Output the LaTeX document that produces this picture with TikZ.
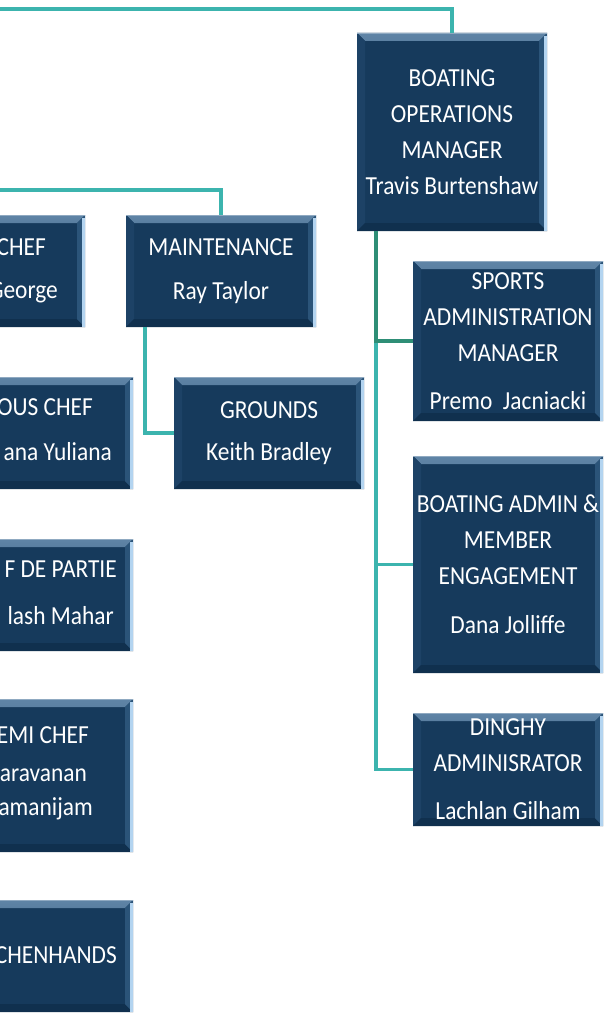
\documentclass[tikz,border=0pt]{standalone}
\usepackage{fontspec}
\newfontfamily\boxfontfam[FakeStretch=0.9]{Carlito}
\definecolor{boxnavy}{HTML}{163A5C}
\definecolor{bevtop}{HTML}{5F84A6}
\definecolor{bevleft}{HTML}{1D4266}
\definecolor{bevbot}{HTML}{10304E}
\definecolor{bevright}{HTML}{2B5479}
\definecolor{bevedge}{HTML}{B3D4F0}
\definecolor{connteal}{HTML}{3CB4AE}
\definecolor{conngreen}{HTML}{2E8E76}
\tikzset{
  orgbox/.style={rectangle, fill=boxnavy, minimum width=190pt, minimum height=#1,
    inner sep=0pt, outer sep=0pt, text=white, align=center,
    font=\boxfontfam\fontsize{26}{36}\selectfont,
    path picture={
      \fill[top color=bevtop, bottom color=boxnavy]
        (path picture bounding box.north west) -- (path picture bounding box.north east)
        -- ([shift={(-8pt,-8pt)}]path picture bounding box.north east)
        -- ([shift={(8pt,-8pt)}]path picture bounding box.north west) -- cycle;
      \fill[bevleft]
        (path picture bounding box.north west) -- ([shift={(8pt,-8pt)}]path picture bounding box.north west)
        -- ([shift={(8pt,8pt)}]path picture bounding box.south west)
        -- (path picture bounding box.south west) -- cycle;
      \fill[bevbot]
        (path picture bounding box.south west) -- ([shift={(8pt,8pt)}]path picture bounding box.south west)
        -- ([shift={(-8pt,8pt)}]path picture bounding box.south east)
        -- (path picture bounding box.south east) -- cycle;
      \fill[bevright]
        (path picture bounding box.north east) -- ([shift={(-8pt,-8pt)}]path picture bounding box.north east)
        -- ([shift={(-8pt,8pt)}]path picture bounding box.south east)
        -- (path picture bounding box.south east) -- cycle;
      \fill[bevedge] ([shift={(-3pt,-3pt)}]path picture bounding box.north east) rectangle (path picture bounding box.south east);
      \fill[bevtop!70!white] (path picture bounding box.north west) rectangle ([yshift=-1pt]path picture bounding box.north east);
    }},
  orgbox/.default=112pt,
  frag/.style={anchor=base east, inner sep=0pt, text=white, font=\boxfontfam\fontsize{26}{36}\selectfont},
  conn/.style={draw=connteal, line width=3.2pt},
  conng/.style={draw=conngreen, line width=3.2pt}
}
\begin{document}
\begin{tikzpicture}[x=1pt,y=-1pt]
\useasboundingbox (0,0) rectangle (603,1014);
\clip (0,0) rectangle (603,1014);
\fill[white] (0,0) rectangle (603,1014);

% right-hand branch
\node[orgbox=198pt] (ops) at (452,132) {BOATING\\OPERATIONS\\MANAGER\\Travis Burtenshaw};
\node[orgbox=160pt] (sports) at (508,341) {SPORTS\\ADMINISTRATION\\MANAGER\\[12pt]Premo\ \ Jacniacki};
\node[orgbox=217pt] (badmin) at (508,564.5) {BOATING ADMIN \&\\MEMBER\\ENGAGEMENT\\[13pt]Dana Jolliffe};
\node[orgbox=113pt] (dinghy) at (508,769.5) {DINGHY\\ADMINISRATOR\\[12pt]Lachlan Gilham};

% middle
\node[orgbox] (maint) at (221,271) {MAINTENANCE\\[8pt]Ray Taylor};
\node[orgbox] (grounds) at (269,433) {GROUNDS\\[6pt]Keith Bradley};

% left column (cut by the page edge)
\node[orgbox] (chef) at (-10,271) {};
\node[orgbox] (sous) at (38,433) {};
\node[orgbox] (partie) at (38,595) {};
\node[orgbox=153pt] (demi) at (38,775.5) {};
\node[orgbox] (kitchen) at (38,956) {};

\node[frag] (t1) at (46,255) {CHEF};
\node[frag] (t2) at (58,298) {George};
\node[frag] (t3) at (93,415) {OUS CHEF};
\node[frag] (t4) at (112,460) {ana Yuliana};
\node[frag] (t5) at (117,577) {F DE PARTIE};
\node[frag] (t6) at (114,624) {lash Mahar};
\node[frag] (t7) at (89,743) {EMI CHEF};
\node[frag] (t8) at (87,781) {aravanan};
\node[frag] (t9) at (93,815) {amanijam};
\node[frag] (t10) at (117,963) {CHENHANDS};

% connectors
\coordinate (topleft) at (-10,9);
\coordinate (midleft) at (-10,190);
\coordinate (trunk) at ([xshift=-76pt]ops.south);
\coordinate (mtrunk) at ([xshift=-76pt]maint.south);
\draw[conn] (topleft) -| (ops.north);
\draw[conn] (midleft) -| (maint.north);
\draw[conn] (mtrunk) |- (grounds.west);
\draw[conn] (trunk |- sports.west) |- (dinghy.west);
\draw[conn] (trunk |- badmin.west) -- (badmin.west);
\draw[conng] (trunk) |- (sports.west);
\end{tikzpicture}
\end{document}
